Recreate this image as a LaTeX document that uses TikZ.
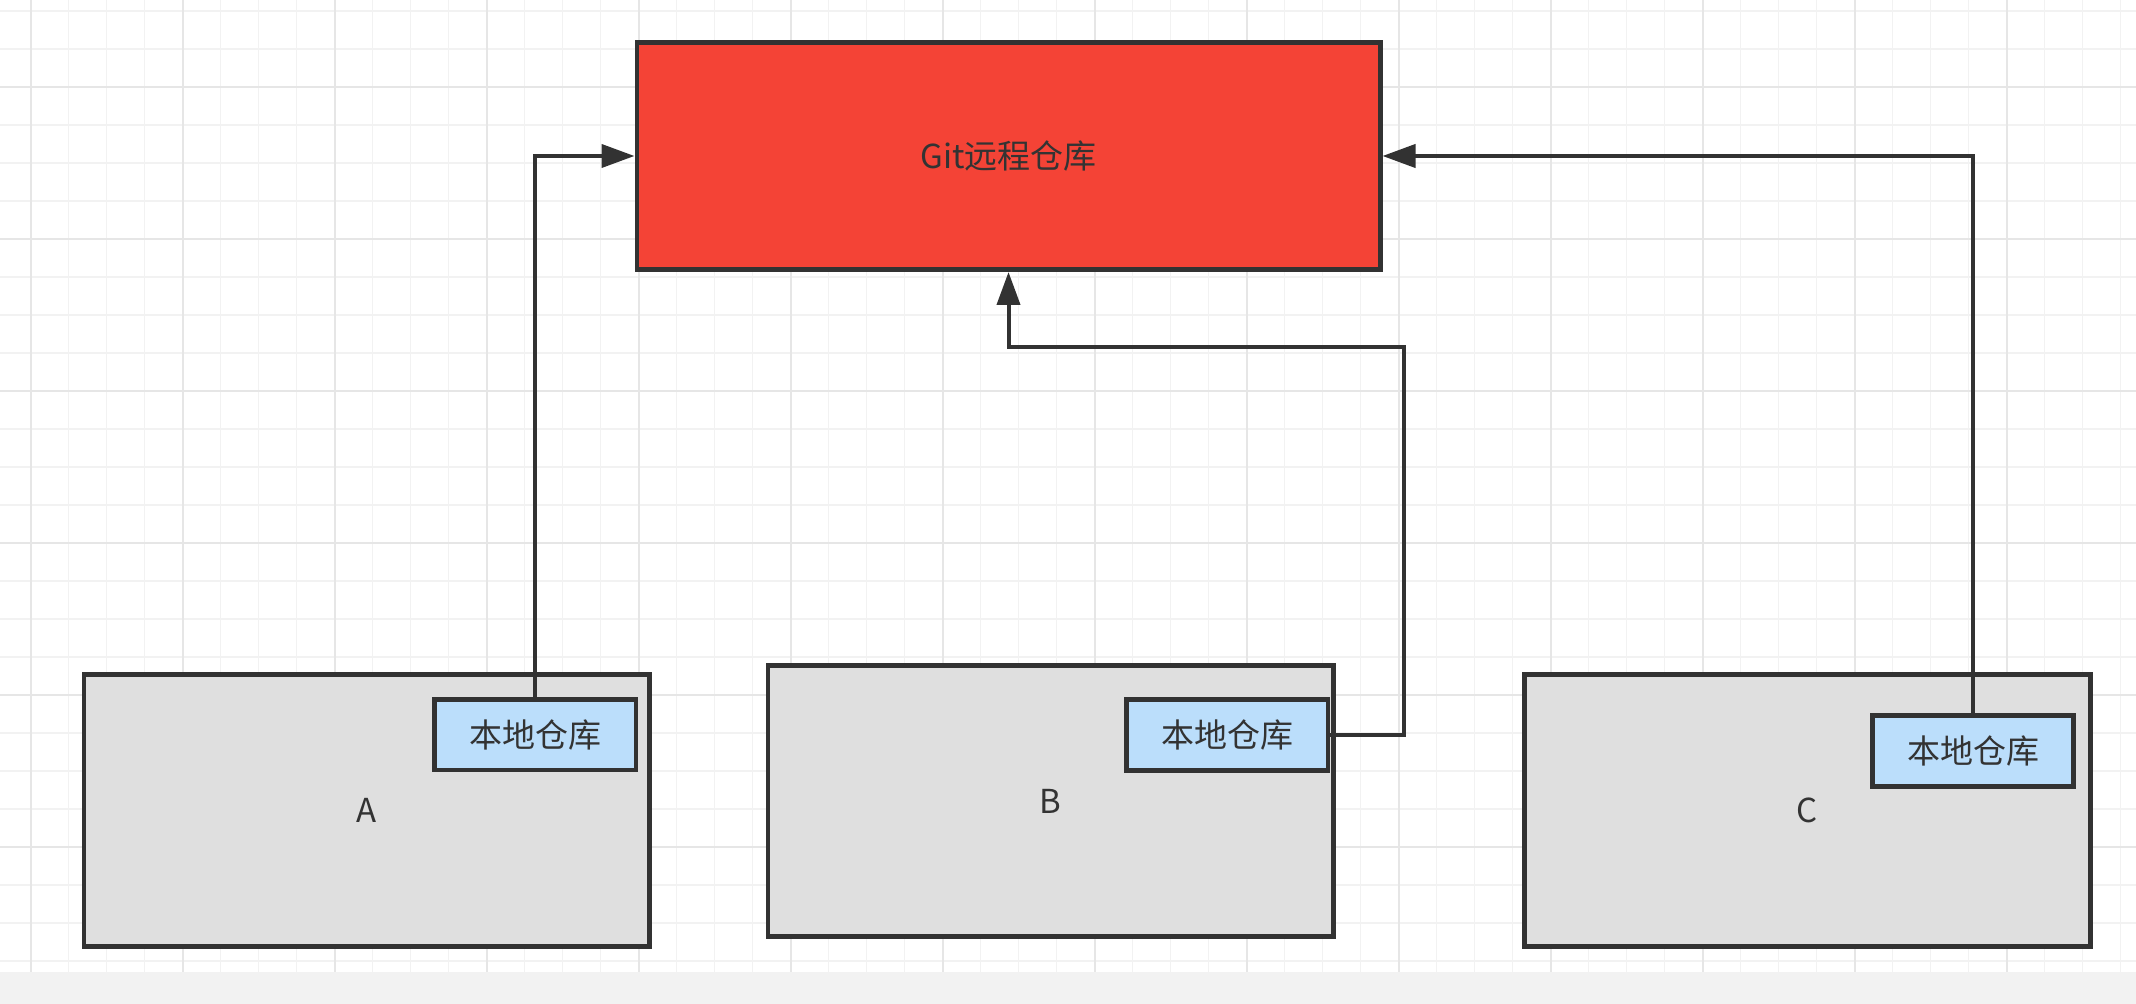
\documentclass[tikz,border=0pt]{standalone}
\usepackage{fontspec}
\setmainfont{Noto Sans CJK SC}
\usepackage{tikz}
\usetikzlibrary{arrows.meta, positioning, calc}
\definecolor{gitred}{HTML}{F44336}
\definecolor{hostgray}{HTML}{DFDFDF}
\definecolor{localblue}{HTML}{BBDEFB}
\definecolor{edgedark}{HTML}{323232}
\definecolor{textdark}{HTML}{333333}
\definecolor{gridminor}{HTML}{F2F2F2}
\definecolor{gridmajor}{HTML}{E6E6E6}
\definecolor{footgray}{HTML}{F2F2F2}

\begin{document}
\begin{tikzpicture}[x=0.5pt, y=-0.5pt,
    box/.style={draw=edgedark, line width=2.4pt, rectangle, text=textdark, font=\fontsize{16.5}{19}\selectfont},
    remote/.style={box, fill=gitred, minimum width=371.6pt, minimum height=113.6pt},
    host/.style={box, fill=hostgray, minimum width=282.9pt, minimum height=135.6pt},
    local/.style={box, fill=localblue, minimum width=100.6pt, minimum height=35.3pt},
    push/.style={draw=edgedark, line width=2pt, -{Triangle[length=16.5pt, width=11.5pt]}}]
    \useasboundingbox (0,0) rectangle (2136,1004);
    \fill[white] (0,0) rectangle (2136,1004);
    \foreach \gx in {-7.2,30.8,...,2140} \draw[gridminor, line width=0.6pt] (\gx,0) -- (\gx,971.7);
    \foreach \gy in {11,49,...,971} \draw[gridminor, line width=0.6pt] (0,\gy) -- (2136,\gy);
    \foreach \gx in {30.8,182.8,...,2140} \draw[gridmajor, line width=0.8pt] (\gx,0) -- (\gx,971.7);
    \foreach \gy in {87,239,...,971} \draw[gridmajor, line width=0.8pt] (0,\gy) -- (2136,\gy);
    \fill[footgray] (0,971.7) rectangle (2136,1004);

    \node[remote] (git) at (1008.5,156) {Git远程仓库};
    \node[host] (hosta) at (366.8,810.5) {A};
    \node[host] (hostb) at (1050.8,801) {B};
    \node[host] (hostc) at (1807.2,810.5) {C};
    \node[local] (locala) at (535.3,734.8) {本地仓库};
    \node[local] (localb) at (1227.3,735.2) {本地仓库};
    \node[local] (localc) at (1973.2,751.2) {本地仓库};
    \coordinate (bturn) at (1404,346.7);

    \draw[push] (locala.north) |- (git.west);
    \draw[push] (localb.east) -| (bturn) -| (git.south);
    \draw[push] (localc.north) |- (git.east);
\end{tikzpicture}
\end{document}
